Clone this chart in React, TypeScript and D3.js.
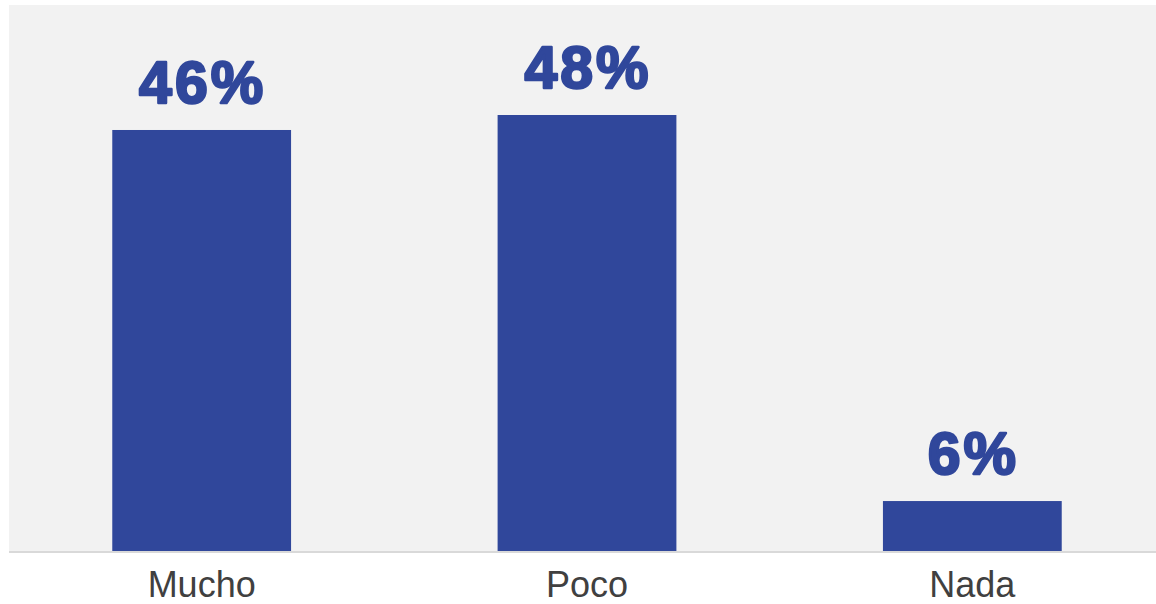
import React from "react";
import * as d3 from "d3";

const categories = ["Mucho", "Poco", "Nada"];
const values = [46.35, 48, 5.5];
const labels = ["46%", "48%", "6%"];

const W = 1156;
const H = 604;

export default function App() {
  const x = d3.scaleBand<string>().domain(categories).range([9, 1165]).paddingInner(0.536).paddingOuter(0.268);
  const y = d3.scaleLinear().domain([0, 48]).range([551, 115]);
  const barColor = "#30479b";
  return (
    <svg width={W} height={H} style={{ position: "absolute", left: 0, top: 0, background: "#ffffff" }}>
      <rect x={9} y={5} width={W - 9} height={546} fill="#f2f2f2" />
      {categories.map((c, i) => (
        <g key={c}>
          <rect x={x(c)} y={y(values[i])} width={x.bandwidth()} height={y(0) - y(values[i])} fill={barColor} />
          <text
            x={(x(c) as number) + x.bandwidth() / 2 + 1}
            y={y(values[i]) - 27}
            textAnchor="middle"
            fontFamily="'Liberation Sans', Arial, sans-serif"
            fontWeight="bold"
            fontSize={59}
            letterSpacing={3}
            fill={barColor}
            stroke={barColor}
            strokeWidth={2.4}
            strokeLinejoin="round"
          >
            {labels[i]}
          </text>
          <text
            x={(x(c) as number) + x.bandwidth() / 2}
            y={597}
            textAnchor="middle"
            fontFamily="'Liberation Sans', Arial, sans-serif"
            fontSize={36}
            fill="#404040"
          >
            {c}
          </text>
        </g>
      ))}
      <line x1={9} x2={W} y1={y(0) + 1} y2={y(0) + 1} stroke="#d9d9d9" strokeWidth={2} />
    </svg>
  );
}
